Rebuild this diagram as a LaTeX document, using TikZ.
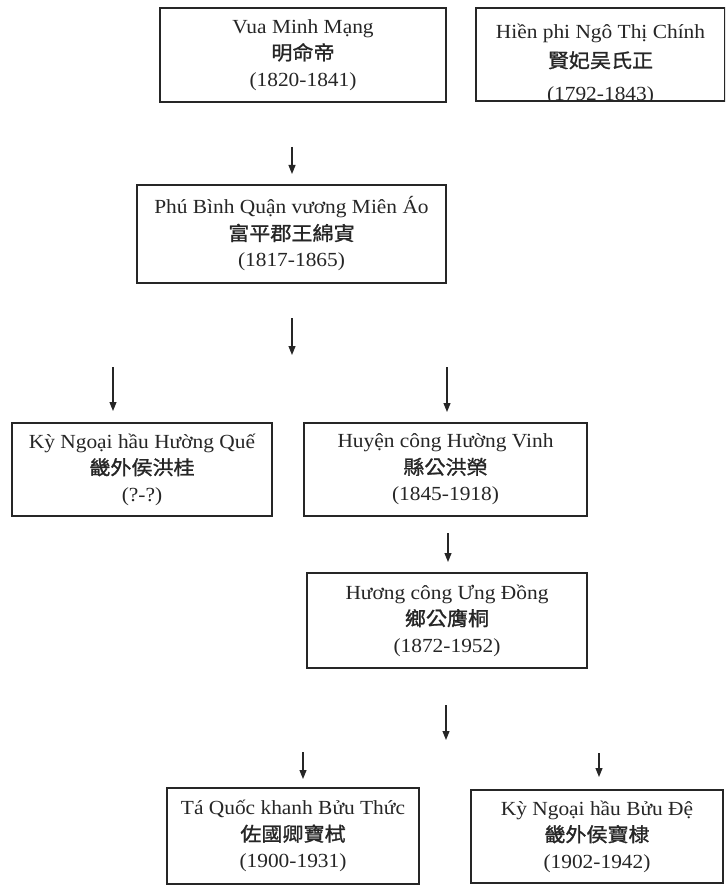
\documentclass[tikz,border=0pt]{standalone}
\usepackage{fontspec}
\setmainfont{Liberation Serif}[FakeStretch=1.07]
\newfontfamily\cjk{Noto Sans CJK TC}[FakeStretch=1.08, FakeBold=1.2]
\usetikzlibrary{arrows.meta}
\newcommand{\cj}[1]{{\cjk\fontsize{19.5}{26.5}\selectfont #1}}
\definecolor{ink}{HTML}{262626}
\begin{document}
\begin{tikzpicture}[x=1pt,y=-1pt,
  box/.style={draw=ink, line width=1.6pt, align=center, inner sep=0pt, text=ink,
    font=\fontsize{20}{26.5}\selectfont},
  arr/.style={-{Stealth[length=9pt,width=7pt,inset=0pt]}, line width=1.1pt, draw=ink}]
\clip (0,0) rectangle (725,885);
\fill[white] (0,0) rectangle (725,885);
% boxes
\node[box, minimum width=286pt, minimum height=94pt] (b1) at (303,55)
  {Vua Minh Mạng\\\cj{明命帝}\\(1820-1841)};
\node[box, minimum width=249pt, minimum height=93pt,
  path picture={\node[align=center, inner sep=0pt, text=ink, font=\fontsize{20}{29}\selectfont]
    at ([yshift=-10pt]path picture bounding box.center)
    {Hiền phi Ngô Thị Chính\\\cj{賢妃吴氏正}\\[4pt](1792-1843)};}] (b2) at (600.5,54.5) {};
\node[box, minimum width=309pt, minimum height=98pt] (b3) at (291.5,234)
  {Phú Bình Quận vương Miên Áo\\\cj{富平郡王綿寊}\\(1817-1865)};
\node[box, minimum width=260pt, minimum height=93pt] (b4) at (142,469.5)
  {Kỳ Ngoại hầu Hường Quế\\\cj{畿外侯洪桂}\\(?-?)};
\node[box, minimum width=283pt, minimum height=93pt] (b5) at (445.5,469.5)
  {Huyện công Hường Vinh\\\cj{縣公洪榮}\\(1845-1918)};
\node[box, minimum width=280pt, minimum height=95pt] (b6) at (447,620.5)
  {Hương công Ưng Đồng\\\cj{鄉公膺桐}\\(1872-1952)};
\node[box, minimum width=252pt, minimum height=96pt] (b7) at (293,836)
  {Tá Quốc khanh Bửu Thức\\\cj{佐國卿寶栻}\\(1900-1931)};
\node[box, minimum width=252pt, minimum height=93pt] (b8) at (597,836.5)
  {Kỳ Ngoại hầu Bửu Đệ\\\cj{畿外侯寶棣}\\(1902-1942)};
% arrow ends
\coordinate (a1s) at (292,147); \coordinate (a1e) at (292,174);
\coordinate (a2s) at (292,318); \coordinate (a2e) at (292,355);
\coordinate (a3ls) at (113,367); \coordinate (a3le) at (113,411);
\coordinate (a3rs) at (447,367); \coordinate (a3re) at (447,412);
\coordinate (a4s) at (448,533); \coordinate (a4e) at (448,562);
\coordinate (a5s) at (446,705); \coordinate (a5e) at (446,740);
\coordinate (a6ls) at (303,752); \coordinate (a6le) at (303,779);
\coordinate (a6rs) at (599,753); \coordinate (a6re) at (599,777);
\draw[arr] (a1s) -- (a1e);
\draw[arr] (a2s) -- (a2e);
\draw[arr] (a3ls) -- (a3le);
\draw[arr] (a3rs) -- (a3re);
\draw[arr] (a4s) -- (a4e);
\draw[arr] (a5s) -- (a5e);
\draw[arr] (a6ls) -- (a6le);
\draw[arr] (a6rs) -- (a6re);
\end{tikzpicture}
\end{document}
